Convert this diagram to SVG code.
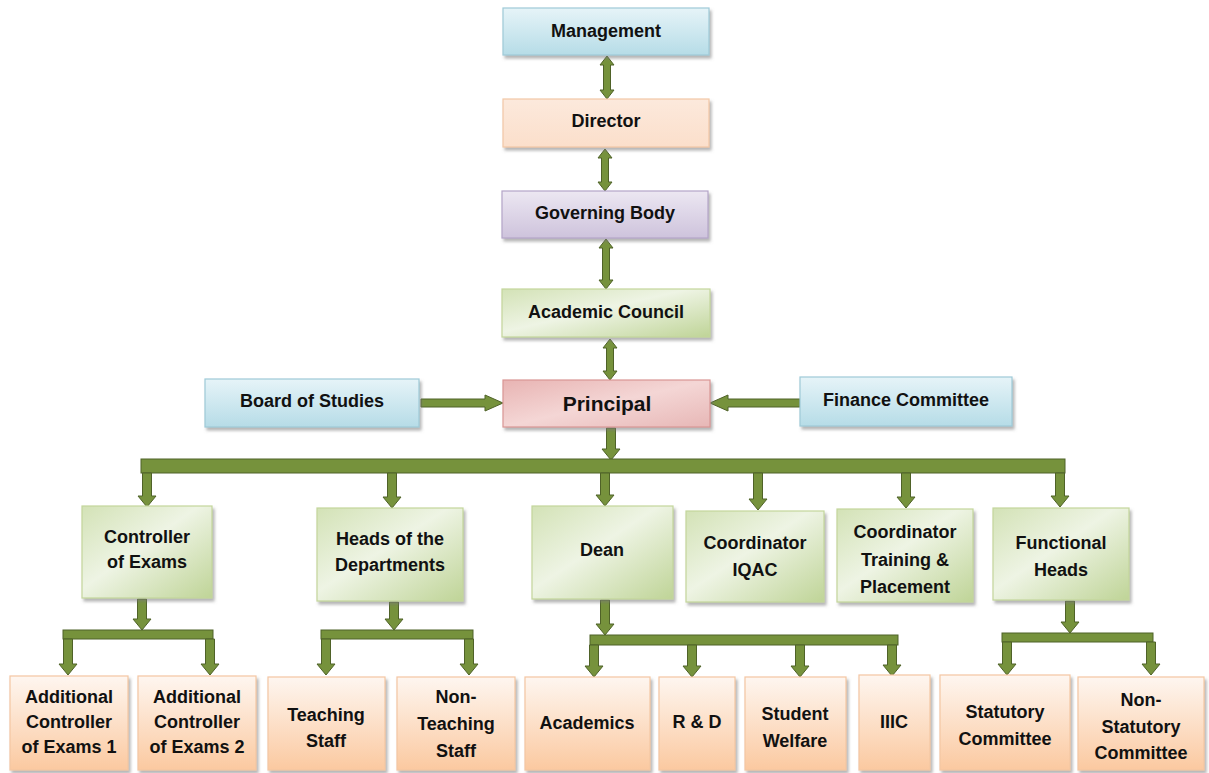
<svg xmlns="http://www.w3.org/2000/svg" width="1209" height="773" viewBox="0 0 1209 773">
<defs>
<linearGradient id="gBlue" x1="0" y1="0" x2="0" y2="1"><stop offset="0" stop-color="#e6f4f8"/><stop offset="1" stop-color="#b6dce7"/></linearGradient>
<linearGradient id="gPeach" x1="0" y1="0" x2="0" y2="1"><stop offset="0" stop-color="#fce9dc"/><stop offset="1" stop-color="#fbdfcb"/></linearGradient>
<linearGradient id="gLav" x1="0" y1="0" x2="0" y2="1"><stop offset="0" stop-color="#ece7f2"/><stop offset="1" stop-color="#cec3dc"/></linearGradient>
<linearGradient id="gGreen" x1="0" y1="0" x2="1" y2="1"><stop offset="0" stop-color="#d3e2b6"/><stop offset="0.45" stop-color="#eef4e4"/><stop offset="1" stop-color="#bfd497"/></linearGradient>
<linearGradient id="gPink" x1="0" y1="0" x2="1" y2="1"><stop offset="0" stop-color="#e8b4b3"/><stop offset="0.5" stop-color="#f4d6d5"/><stop offset="1" stop-color="#e7b7b6"/></linearGradient>
<linearGradient id="gOrange" x1="0" y1="0" x2="0" y2="1"><stop offset="0" stop-color="#fef6f0"/><stop offset="1" stop-color="#fbc9a0"/></linearGradient>
<filter id="sh" x="-10%" y="-10%" width="130%" height="140%"><feDropShadow dx="2" dy="3" stdDeviation="1.5" flood-color="#777" flood-opacity="0.55"/></filter>
</defs>
<style>
text{font-family:"Liberation Sans",Arial,sans-serif;font-weight:bold;font-size:18px;fill:#111;text-anchor:middle}
.blue{fill:url(#gBlue);stroke:#9ecad8;stroke-width:1.2;filter:url(#sh)}
.peach{fill:url(#gPeach);stroke:#f2c7a6;stroke-width:1.2;filter:url(#sh)}
.lav{fill:url(#gLav);stroke:#b4a5c8;stroke-width:1.2;filter:url(#sh)}
.green{fill:url(#gGreen);stroke:#c3d69b;stroke-width:1.2;filter:url(#sh)}
.pink{fill:url(#gPink);stroke:#d99694;stroke-width:1.2;filter:url(#sh)}
.orange{fill:url(#gOrange);stroke:#f3c6a2;stroke-width:1.2;filter:url(#sh)}
.arr{fill:#76923c;stroke:#4f6228;stroke-width:1}
.big{font-size:21px}
</style>

<g id="connectors">
<!-- top double arrows -->
<path class="arr" d="M607 56 L614 65 L610.5 65 L610.5 90 L614 90 L607 99 L600 90 L603.5 90 L603.5 65 L600 65 Z"/>
<path class="arr" d="M605 149 L612 158 L608.5 158 L608.5 182 L612 182 L605 191 L598 182 L601.5 182 L601.5 158 L598 158 Z"/>
<path class="arr" d="M606 239 L613 248 L609.5 248 L609.5 280 L613 280 L606 289 L599 280 L602.5 280 L602.5 248 L599 248 Z"/>
<path class="arr" d="M610 339 L617 348 L613.5 348 L613.5 371 L617 371 L610 380 L603 371 L606.5 371 L606.5 348 L603 348 Z"/>
<!-- side arrows -->
<path class="arr" d="M421 399 L485 399 L485 395 L503 403 L485 411 L485 407 L421 407 Z"/>
<path class="arr" d="M800 399 L728 399 L728 395 L710 403 L728 411 L728 407 L800 407 Z"/>
<!-- principal to bar -->
<path class="arr" d="M606.5 428 L615.5 428 L615.5 449 L620 449 L611 460 L602 449 L606.5 449 Z"/>
<!-- main bar -->
<rect class="arr" x="141" y="459" width="924" height="14"/>
<!-- drops from bar -->
<path class="arr" d="M142.5 473 L151.5 473 L151.5 496 L156 496 L147 507 L138 496 L142.5 496 Z"/>
<path class="arr" d="M387.5 473 L396.5 473 L396.5 497 L401 497 L392 508 L383 497 L387.5 497 Z"/>
<path class="arr" d="M600.5 473 L609.5 473 L609.5 495 L614 495 L605 506 L596 495 L600.5 495 Z"/>
<path class="arr" d="M753.5 473 L762.5 473 L762.5 499 L767 499 L758 510 L749 499 L753.5 499 Z"/>
<path class="arr" d="M901.5 473 L910.5 473 L910.5 497 L915 497 L906 508 L897 497 L901.5 497 Z"/>
<path class="arr" d="M1055.5 473 L1064.5 473 L1064.5 496 L1069 496 L1060 507 L1051 496 L1055.5 496 Z"/>
<!-- controller sub -->
<path class="arr" d="M137.5 599 L146.5 599 L146.5 619 L151 619 L142 630 L133 619 L137.5 619 Z"/>
<rect class="arr" x="63" y="630" width="150" height="9"/>
<path class="arr" d="M63.5 639 L72.5 639 L72.5 664 L77 664 L68 675 L59 664 L63.5 664 Z"/>
<path class="arr" d="M205.5 639 L214.5 639 L214.5 664 L219 664 L210 675 L201 664 L205.5 664 Z"/>
<!-- heads sub -->
<path class="arr" d="M389.5 602 L398.5 602 L398.5 619 L403 619 L394 630 L385 619 L389.5 619 Z"/>
<rect class="arr" x="321" y="630" width="152" height="9"/>
<path class="arr" d="M321.5 639 L330.5 639 L330.5 664 L335 664 L326 675 L317 664 L321.5 664 Z"/>
<path class="arr" d="M464.5 639 L473.5 639 L473.5 664 L478 664 L469 675 L460 664 L464.5 664 Z"/>
<!-- dean sub -->
<path class="arr" d="M600.5 600 L609.5 600 L609.5 624 L614 624 L605 635 L596 624 L600.5 624 Z"/>
<rect class="arr" x="590" y="635" width="308" height="10"/>
<path class="arr" d="M589.5 645 L598.5 645 L598.5 666 L603 666 L594 677 L585 666 L589.5 666 Z"/>
<path class="arr" d="M687.5 645 L696.5 645 L696.5 666 L701 666 L692 677 L683 666 L687.5 666 Z"/>
<path class="arr" d="M795.5 645 L804.5 645 L804.5 666 L809 666 L800 677 L791 666 L795.5 666 Z"/>
<path class="arr" d="M887.5 645 L896.5 645 L896.5 665 L901 665 L892 676 L883 665 L887.5 665 Z"/>
<!-- functional sub -->
<path class="arr" d="M1065.5 601 L1074.5 601 L1074.5 622 L1079 622 L1070 633 L1061 622 L1065.5 622 Z"/>
<rect class="arr" x="1002" y="633" width="151" height="9"/>
<path class="arr" d="M1002.5 642 L1011.5 642 L1011.5 664 L1016 664 L1007 675 L998 664 L1002.5 664 Z"/>
<path class="arr" d="M1146.5 642 L1155.5 642 L1155.5 664 L1160 664 L1151 675 L1142 664 L1146.5 664 Z"/>
</g>

<g id="management"><rect class="blue" x="503" y="8" width="206" height="47"/><text x="606" y="37">Management</text></g>
<g id="director"><rect class="peach" x="503" y="99" width="206" height="48"/><text x="606" y="127">Director</text></g>
<g id="governing-body"><rect class="lav" x="502" y="191" width="206" height="47"/><text x="605" y="219">Governing Body</text></g>
<g id="academic-council"><rect class="green" x="502" y="289" width="208" height="48"/><text x="606" y="318">Academic Council</text></g>
<g id="principal"><rect class="pink" x="503" y="380" width="207" height="47"/><text class="big" x="607" y="411">Principal</text></g>
<g id="board-of-studies"><rect class="blue" x="205" y="379" width="214" height="48"/><text x="312" y="407">Board of Studies</text></g>
<g id="finance-committee"><rect class="blue" x="800" y="377" width="212" height="49"/><text x="906" y="406">Finance Committee</text></g>

<g id="controller-of-exams"><rect class="green" x="82" y="506" width="130" height="92"/><text x="147" y="543">Controller</text><text x="147" y="568">of Exams</text></g>
<g id="heads-of-departments"><rect class="green" x="317" y="508" width="146" height="93"/><text x="390" y="545">Heads of the</text><text x="390" y="571">Departments</text></g>
<g id="dean"><rect class="green" x="532" y="506" width="141" height="93"/><text x="602" y="556">Dean</text></g>
<g id="coordinator-iqac"><rect class="green" x="686" y="511" width="138" height="91"/><text x="755" y="549">Coordinator</text><text x="755" y="576">IQAC</text></g>
<g id="coordinator-training"><rect class="green" x="837" y="509" width="136" height="93"/><text x="905" y="538">Coordinator</text><text x="905" y="566">Training &amp;</text><text x="905" y="593">Placement</text></g>
<g id="functional-heads"><rect class="green" x="993" y="508" width="136" height="92"/><text x="1061" y="549">Functional</text><text x="1061" y="576">Heads</text></g>

<g id="additional-controller-1"><rect class="orange" x="10" y="676" width="118" height="94"/><text x="69" y="703">Additional</text><text x="69" y="728">Controller</text><text x="69" y="753">of Exams 1</text></g>
<g id="additional-controller-2"><rect class="orange" x="138" y="676" width="118" height="94"/><text x="197" y="703">Additional</text><text x="197" y="728">Controller</text><text x="197" y="753">of Exams 2</text></g>
<g id="teaching-staff"><rect class="orange" x="268" y="677" width="117" height="93"/><text x="326" y="721">Teaching</text><text x="326" y="747">Staff</text></g>
<g id="non-teaching-staff"><rect class="orange" x="397" y="677" width="118" height="93"/><text x="456" y="703">Non-</text><text x="456" y="730">Teaching</text><text x="456" y="757">Staff</text></g>
<g id="academics"><rect class="orange" x="525" y="677" width="125" height="93"/><text x="587" y="729">Academics</text></g>
<g id="r-and-d"><rect class="orange" x="659" y="677" width="76" height="93"/><text x="697" y="728">R &amp; D</text></g>
<g id="student-welfare"><rect class="orange" x="745" y="677" width="101" height="93"/><text x="795" y="720">Student</text><text x="795" y="747">Welfare</text></g>
<g id="iiic"><rect class="orange" x="859" y="675" width="71" height="95"/><text x="894" y="728">IIIC</text></g>
<g id="statutory-committee"><rect class="orange" x="940" y="675" width="130" height="95"/><text x="1005" y="718">Statutory</text><text x="1005" y="745">Committee</text></g>
<g id="non-statutory-committee"><rect class="orange" x="1078" y="677" width="126" height="93"/><text x="1141" y="706">Non-</text><text x="1141" y="733">Statutory</text><text x="1141" y="759">Committee</text></g>
</svg>
